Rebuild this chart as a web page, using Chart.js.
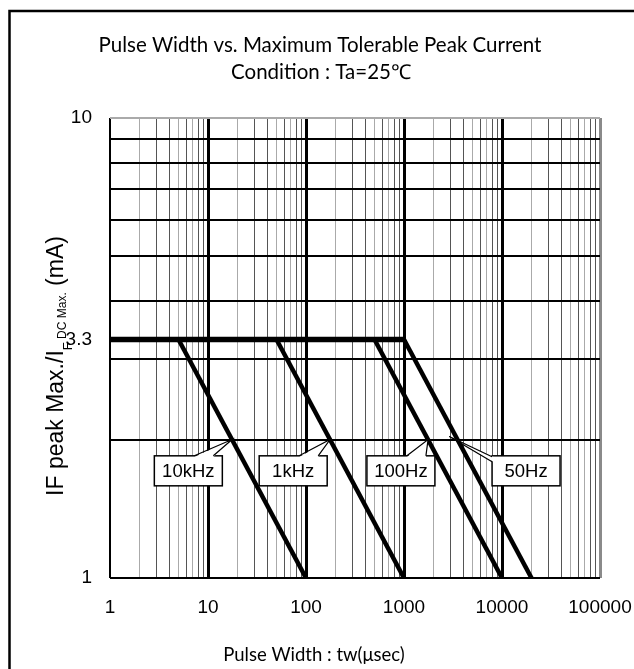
<!DOCTYPE html>
<html><head><meta charset="utf-8">
<script src="https://cdn.jsdelivr.net/npm/chart.js@4.4.0/dist/chart.umd.min.js"></script>
<style>html,body{margin:0;padding:0;background:#fff}#wrap{width:634px;height:669px;position:relative}</style>
</head><body><div id="wrap"><canvas id="c" width="634" height="669"></canvas></div>
<script>
// ---- data ----
const titleLines = ['Pulse Width vs. Maximum Tolerable Peak Current', 'Condition : Ta=25℃'];
const xAxisTitle = 'Pulse Width : tw(μsec)';
const yAxisTitleParts = ['IF peak Max./I', 'F', ' DC Max.', ' (mA)'];
const xTickValues = [1, 10, 100, 1000, 10000, 100000];
const yTickValues = [1, 3.3, 10];
const yGridValues = [1, 2, 3, 4, 5, 6, 7, 8, 9, 10];
const peakRatio = 3.3;
const floorRatio = 1;
const plateauStart = 1;
const plateauEnd = 1000;
const seriesNames = ['10kHz', '1kHz', '100Hz', '50Hz'];
const kneeWidths = [5, 50, 500, 1000];
const endWidths = [100, 1000, 10000, 20000];
const calloutBoxX = [6.3, 74, 930, 17600];
const calloutBoxY = [1.71, 1.71, 1.71, 1.71];
const calloutTipX = [17.6, 176, 1760, 2900];
const calloutTipY = [2, 2, 2, 2.03];

// ---- styles ----
const SANS = '"Liberation Sans", Arial, sans-serif';
const HUMANIST = 'Lato, "Open Sans", sans-serif';

const datasets = [{
  label: 'plateau',
  data: [{x: plateauStart, y: peakRatio}, {x: plateauEnd, y: peakRatio}],
  borderColor: '#000', borderWidth: 5.5, pointRadius: 0
}];
seriesNames.forEach((n, i) => datasets.push({
  label: n,
  data: [{x: kneeWidths[i], y: peakRatio}, {x: endWidths[i], y: floorRatio}],
  borderColor: '#000', borderWidth: 4.5, pointRadius: 0
}));

function mantissa(v) {
  const e = Math.floor(Math.log10(v) + 1e-9);
  return Math.round(v / Math.pow(10, e));
}

const textPlugin = {
  id: 'texts',
  beforeDraw(chart) {
    const ctx = chart.ctx;
    ctx.save();
    ctx.fillStyle = '#fff';
    ctx.fillRect(0, 0, chart.width, chart.height);
    ctx.restore();
  },
  afterDatasetsDraw(chart) {
    const {ctx, scales: {x, y}} = chart;
    ctx.save();
    seriesNames.forEach((name, i) => {
      const cx = x.getPixelForValue(calloutBoxX[i]);
      const cy = y.getPixelForValue(calloutBoxY[i]);
      const w = 68, h = 30;
      const l = cx - w / 2, t = cy - h / 2;
      const tx = x.getPixelForValue(calloutTipX[i]);
      const ty = y.getPixelForValue(calloutTipY[i]);
      ctx.fillStyle = '#fff';
      ctx.fillRect(l, t, w, h);
      ctx.strokeStyle = '#000';
      ctx.lineWidth = 1.5;
      ctx.strokeRect(l, t, w, h);
      let b1, b2, f1, f2;
      if (tx < l) {
        b1 = [l, t + 1]; b2 = [l, t + 6];
        f1 = [l + 1.2, t + 1]; f2 = [l + 1.2, t + 6];
      } else {
        b1 = [l + 40, t]; b2 = [l + 59, t];
        f1 = [l + 40, t + 1.2]; f2 = [l + 59, t + 1.2];
      }
      ctx.fillStyle = '#fff';
      ctx.beginPath();
      ctx.moveTo(f1[0], f1[1]); ctx.lineTo(tx, ty); ctx.lineTo(f2[0], f2[1]); ctx.closePath();
      ctx.fill();
      ctx.beginPath();
      ctx.moveTo(b1[0], b1[1]); ctx.lineTo(tx, ty); ctx.lineTo(b2[0], b2[1]);
      ctx.lineWidth = 1.2;
      ctx.stroke();
      ctx.fillStyle = '#000';
      ctx.font = '18.5px ' + SANS;
      ctx.textAlign = 'center';
      ctx.textBaseline = 'middle';
      ctx.fillText(name, cx, cy + 1);
    });
    ctx.restore();
  },
  afterDraw(chart) {
    const ctx = chart.ctx;
    ctx.save();
    // outer frame
    ctx.strokeStyle = '#000';
    ctx.lineWidth = 2.5;
    ctx.strokeRect(9.5, 11, 700, 700);
    // title
    ctx.fillStyle = '#000';
    ctx.textAlign = 'center';
    ctx.textBaseline = 'alphabetic';
    ctx.font = '20.5px ' + HUMANIST;
    ctx.fillText(titleLines[0], 320, 52);
    ctx.fillText(titleLines[1], 321, 79);
    // x axis title
    ctx.font = '18.5px ' + HUMANIST;
    ctx.fillText(xAxisTitle, 314, 661);
    // y axis title with subscript
    const fonts = ['23px ' + SANS, '13px ' + SANS, '12px ' + SANS, '23px ' + SANS];
    const offs = [0, 9, 3, 0];
    const widths = yAxisTitleParts.map((p, i) => { ctx.font = fonts[i]; return ctx.measureText(p).width; });
    const total = widths.reduce((a, b) => a + b, 0);
    ctx.translate(63, 366);
    ctx.rotate(-Math.PI / 2);
    ctx.textAlign = 'left';
    let px = -total / 2;
    yAxisTitleParts.forEach((p, i) => {
      ctx.font = fonts[i];
      ctx.fillText(p, px, offs[i]);
      px += widths[i];
    });
    ctx.restore();
  }
};

new Chart(document.getElementById('c'), {
  type: 'line',
  data: {datasets},
  plugins: [textPlugin],
  options: {
    responsive: false,
    animation: false,
    events: [],
    layout: {padding: {top: 118, right: 34, left: 0, bottom: 0}},
    plugins: {legend: {display: false}, tooltip: {enabled: false}, title: {display: false}},
    scales: {
      x: {
        type: 'logarithmic', min: 1, max: 100000,
        afterBuildTicks(s) {
          const t = [];
          for (let d = 1; d < 100000; d *= 10) for (let k = 1; k < 10; k++) t.push({value: k * d});
          t.push({value: 100000});
          s.ticks = t;
        },
        afterFit(s) { s.height = 91; s.paddingLeft = 0; s.paddingRight = 0; },
        border: {display: false},
        grid: {
          drawTicks: false,
          color(c) {
            const v = c.tick.value;
            if (v === 100000) return '#8a8a8a';
            if (mantissa(v) === 1) return '#000';
            return [2, 5, 7].includes(mantissa(v)) ? '#aaaaaa' : '#555555';
          },
          lineWidth(c) {
            const v = c.tick.value;
            if (v === 1) return 2;
            if (v === 100000) return 3;
            return mantissa(v) === 1 ? 3 : 1;
          }
        },
        ticks: {
          autoSkip: false, maxRotation: 0, minRotation: 0, padding: 18, color: '#000',
          font: {family: SANS, size: 19},
          callback: (v) => xTickValues.includes(v) ? String(v) : ''
        }
      },
      y: {
        type: 'logarithmic', min: 1, max: 10,
        afterBuildTicks(s) {
          const vals = yGridValues.concat(yTickValues).filter((v, i, a) => a.indexOf(v) === i).sort((a, b) => a - b);
          s.ticks = vals.map(v => ({value: v}));
        },
        afterFit(s) { s.width = 110; s.paddingTop = 0; s.paddingBottom = 0; },
        border: {display: false},
        grid: {
          drawTicks: false,
          color(c) {
            const v = c.tick.value;
            if (v === 10) return '#aaaaaa';
            if (!yGridValues.includes(v)) return 'rgba(0,0,0,0)';
            return '#000';
          },
          lineWidth: 2
        },
        ticks: {
          autoSkip: false, padding: 18, color: '#000',
          font: {family: SANS, size: 19},
          callback: (v) => yTickValues.includes(v) ? String(v) : ''
        }
      }
    }
  }
});
</script>
</body></html>
